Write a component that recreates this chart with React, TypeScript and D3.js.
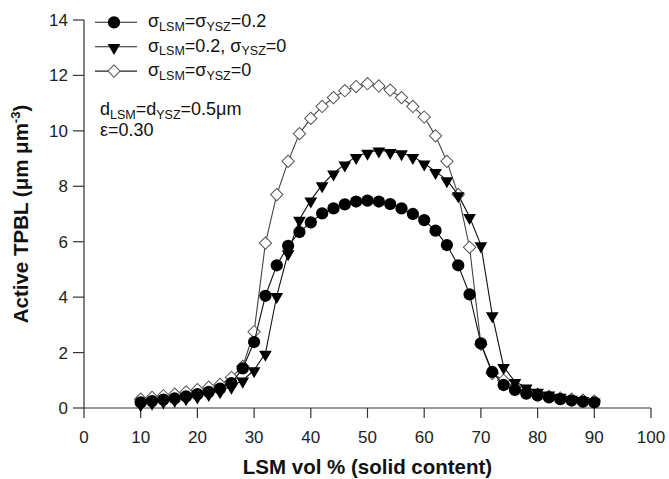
import React from "react";
import * as d3 from "d3";

// LSM volume fraction (%), one point every 2 %
const lsmVol = d3.range(10, 91, 2);

// sigma_LSM = sigma_YSZ = 0.2 (filled circles)
const sigmaBoth02 = [
  0.2, 0.25, 0.3, 0.35, 0.42, 0.5, 0.58, 0.7, 0.9, 1.43, 2.38, 4.05, 5.15, 5.85, 6.35, 6.7, 7.02, 7.2,
  7.35, 7.45, 7.48, 7.45, 7.36, 7.2, 7.0, 6.78, 6.4, 5.88, 5.15, 4.1, 2.33, 1.3, 0.83, 0.65, 0.52,
  0.45, 0.38, 0.32, 0.27, 0.23, 0.2,
];

// sigma_LSM = 0.2, sigma_YSZ = 0 (filled down triangles)
const sigmaLsmOnly = [
  0.15, 0.2, 0.25, 0.3, 0.36, 0.43, 0.52, 0.62, 0.78, 1.0, 1.37, 1.97, 4.05, 5.6, 6.8, 7.5, 8.05,
  8.47, 8.8, 9.07, 9.22, 9.3, 9.25, 9.2, 9.07, 8.83, 8.53, 8.23, 7.69, 6.9, 5.88, 3.36, 1.49, 0.95,
  0.75, 0.6, 0.5, 0.42, 0.35, 0.3, 0.25,
];

// sigma_LSM = sigma_YSZ = 0 (open diamonds)
const sigmaZero = [
  0.32, 0.38, 0.44, 0.5, 0.58, 0.66, 0.75, 0.85, 1.1, 1.5, 2.75, 5.95, 7.7, 8.9, 9.9, 10.45, 10.88,
  11.2, 11.45, 11.6, 11.7, 11.62, 11.47, 11.2, 10.88, 10.5, 9.82, 8.9, 7.7, 5.8, 2.3, 1.25, 1.0,
  0.75, 0.6, 0.5, 0.42, 0.36, 0.32, 0.28, 0.25,
];

const xTicks = [0, 10, 20, 30, 40, 50, 60, 70, 80, 90, 100];
const yTicks = [0, 2, 4, 6, 8, 10, 12, 14];

const W = 669;
const H = 479;
const FONT = "'Liberation Sans', Arial, sans-serif";

const x = d3.scaleLinear().domain([0, 100]).range([84, 651]);
const y = d3.scaleLinear().domain([0, 14]).range([408, 20]);

const circle = d3.symbol(d3.symbolCircle, 118)()!;
const tri = d3.symbol(d3.symbolTriangle, 70)()!;
const square = d3.symbol(d3.symbolSquare, 76)()!;

type Kind = "circle" | "tri" | "diamond";

const Marker = ({ kind, cx, cy }: { kind: Kind; cx: number; cy: number }) => {
  if (kind === "circle")
    return <path d={circle} transform={`translate(${cx},${cy})`} fill="#000" />;
  if (kind === "tri")
    return <path d={tri} transform={`translate(${cx},${cy + 1}) rotate(180)`} fill="#000" />;
  return (
    <path
      d={square}
      transform={`translate(${cx},${cy}) rotate(45)`}
      fill="#fff"
      stroke="#555"
      strokeWidth={1}
    />
  );
};

const series: { kind: Kind; values: number[]; stroke: string }[] = [
  { kind: "diamond", values: sigmaZero, stroke: "#444" },
  { kind: "tri", values: sigmaLsmOnly, stroke: "#111" },
  { kind: "circle", values: sigmaBoth02, stroke: "#111" },
];

const line = d3
  .line<number>()
  .x((_, i) => x(lsmVol[i]))
  .y((d) => y(d));

// label with subscripts: parts alternate normal / subscript
const Sub = ({ parts, tx, ty }: { parts: string[]; tx: number; ty: number }) => (
  <text x={tx} y={ty} fontSize={18} fontFamily={FONT} fill="#111">
    {parts.map((p, i) =>
      i % 2 === 1 ? (
        <tspan key={i} fontSize={12.5} dy={3.5}>
          {p}
        </tspan>
      ) : (
        <tspan key={i} dy={i === 0 ? 0 : -3.5}>
          {p}
        </tspan>
      )
    )}
  </text>
);

const legend: { kind: Kind; parts: string[] }[] = [
  { kind: "circle", parts: ["σ", "LSM", "=σ", "YSZ", "=0.2"] },
  { kind: "tri", parts: ["σ", "LSM", "=0.2, σ", "YSZ", "=0"] },
  { kind: "diamond", parts: ["σ", "LSM", "=σ", "YSZ", "=0"] },
];

const App = () => {
  return (
    <div style={{ position: "absolute", left: 0, top: 0 }}>
      <svg width={W} height={H} style={{ display: "block", background: "#fff" }}>
        {/* axes */}
        <g stroke="#333" strokeWidth={1.2}>
          <line x1={x(0)} x2={x(0)} y1={y(14)} y2={y(0)} />
          <line x1={x(0)} x2={x(100)} y1={y(0)} y2={y(0)} />
          {yTicks.map((t) => (
            <line key={t} x1={x(0) - 11} x2={x(0)} y1={y(t)} y2={y(t)} />
          ))}
          {xTicks.map((t) => (
            <line key={t} x1={x(t)} x2={x(t)} y1={y(0)} y2={y(0) + 10} />
          ))}
        </g>
        <g fontFamily={FONT} fontSize={17} fill="#222">
          {yTicks.map((t) => (
            <text key={t} x={x(0) - 16} y={y(t) + 6} textAnchor="end">
              {t}
            </text>
          ))}
          {xTicks.map((t) => (
            <text key={t} x={x(t)} y={y(0) + 35} textAnchor="middle">
              {t}
            </text>
          ))}
        </g>
        <text
          x={(x(0) + x(100)) / 2}
          y={474}
          textAnchor="middle"
          fontFamily={FONT}
          fontWeight="bold"
          fontSize={20.5}
          fill="#111"
        >
          LSM vol % (solid content)
        </text>
        <text
          transform={`translate(28,${(y(0) + y(14)) / 2}) rotate(-90)`}
          textAnchor="middle"
          fontFamily={FONT}
          fontWeight="bold"
          fontSize={20.5}
          fill="#111"
        >
          Active TPBL (μm μm
          <tspan fontSize={13} dy={-8}>
            -3
          </tspan>
          <tspan dy={8}>)</tspan>
        </text>

        {/* series */}
        {series.map((s) => (
          <g key={s.kind}>
            <path d={line(s.values) ?? ""} fill="none" stroke={s.stroke} strokeWidth={1.1} />
            {s.values.map((v, i) => (
              <Marker key={i} kind={s.kind} cx={x(lsmVol[i])} cy={y(v)} />
            ))}
          </g>
        ))}

        {/* legend */}
        {legend.map((l, i) => {
          const ly = 22.3 + i * 24.4;
          return (
            <g key={l.kind}>
              <line x1={95} x2={137} y1={ly} y2={ly} stroke="#222" strokeWidth={1.1} />
              <Marker kind={l.kind} cx={114} cy={ly} />
              <Sub parts={l.parts} tx={148} ty={ly + 5} />
            </g>
          );
        })}

        <Sub parts={["d", "LSM", "=d", "YSZ", "=0.5μm"]} tx={100} ty={115} />
        <text x={100} y={136} fontSize={18} fontFamily={FONT} fill="#111">
          ε=0.30
        </text>
      </svg>
    </div>
  );
};

export default App;
